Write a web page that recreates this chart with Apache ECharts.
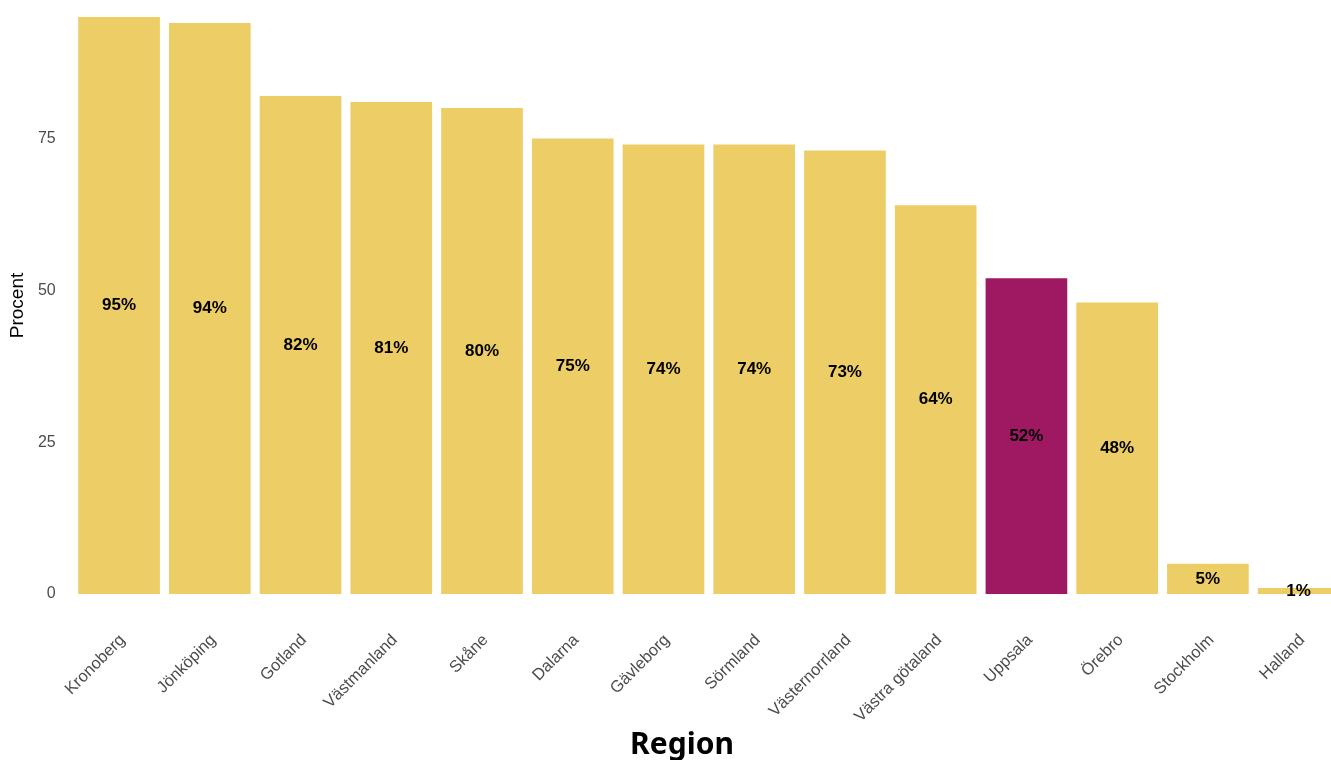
<!DOCTYPE html>
<html>
<head>
<meta charset="utf-8">
<style>
  html, body { margin: 0; padding: 0; background: #ffffff; overflow: hidden; }
  /* the plot is slightly wider than the window, so the last bar is cut at the edge */
  #chart { width: 1344px; height: 760px; }
</style>
<script src="https://cdn.jsdelivr.net/npm/echarts@6/dist/echarts.min.js"></script>
</head>
<body>
<div id="chart"></div>
<script>
// Regions ordered by share, highest first
const regions = ['Kronoberg', 'Jönköping', 'Gotland', 'Västmanland', 'Skåne', 'Dalarna',
  'Gävleborg', 'Sörmland', 'Västernorrland', 'Västra götaland', 'Uppsala', 'Örebro',
  'Stockholm', 'Halland'];
const percent = [95, 94, 82, 81, 80, 75, 74, 74, 73, 64, 52, 48, 5, 1];
const highlighted = 'Uppsala';
const yTicks = [0, 25, 50, 75];

const baseColor = '#EDCD65';
const highlightColor = '#9E1862';

const chart = echarts.init(document.getElementById('chart'), null, { renderer: 'canvas' });

chart.setOption({
  backgroundColor: '#ffffff',
  animation: false,
  title: {
    text: 'Region',
    left: 677,
    top: 725,
    textAlign: 'center',
    textStyle: { fontFamily: 'Noto Sans', fontWeight: 'bold', fontSize: 30, color: '#000000' }
  },
  grid: { left: 73.5, top: 17, right: 0, bottom: 166, containLabel: false },
  xAxis: {
    type: 'category',
    data: regions,
    axisLine: { show: false },
    axisTick: { show: false },
    axisLabel: {
      rotate: 45,
      interval: 0,
      margin: 47,
      padding: [0, -5, 0, 0],
      fontFamily: 'Liberation Sans',
      fontSize: 16.5,
      color: '#4d4d4d'
    }
  },
  yAxis: {
    type: 'value',
    min: 0,
    max: 95,
    interval: 25,
    name: 'Procent',
    nameLocation: 'middle',
    nameGap: 45,
    nameTextStyle: { fontFamily: 'Liberation Sans', fontSize: 19, color: '#000000' },
    splitLine: { show: false },
    axisLine: { show: false },
    axisTick: { show: false },
    axisLabel: {
      margin: 18,
      fontFamily: 'Liberation Sans',
      fontSize: 16,
      color: '#4d4d4d',
      showMaxLabel: false,
      formatter: v => (yTicks.includes(v) ? String(v) : '')
    }
  },
  series: [{
    type: 'bar',
    barCategoryGap: '10%',
    data: percent.map((v, i) => ({
      value: v,
      itemStyle: { color: regions[i] === highlighted ? highlightColor : baseColor }
    })),
    label: {
      show: true,
      position: 'inside',
      formatter: p => p.value + '%',
      fontFamily: 'Liberation Sans',
      fontWeight: 'bold',
      fontSize: 17,
      color: '#000000'
    }
  }]
});
</script>
</body>
</html>
